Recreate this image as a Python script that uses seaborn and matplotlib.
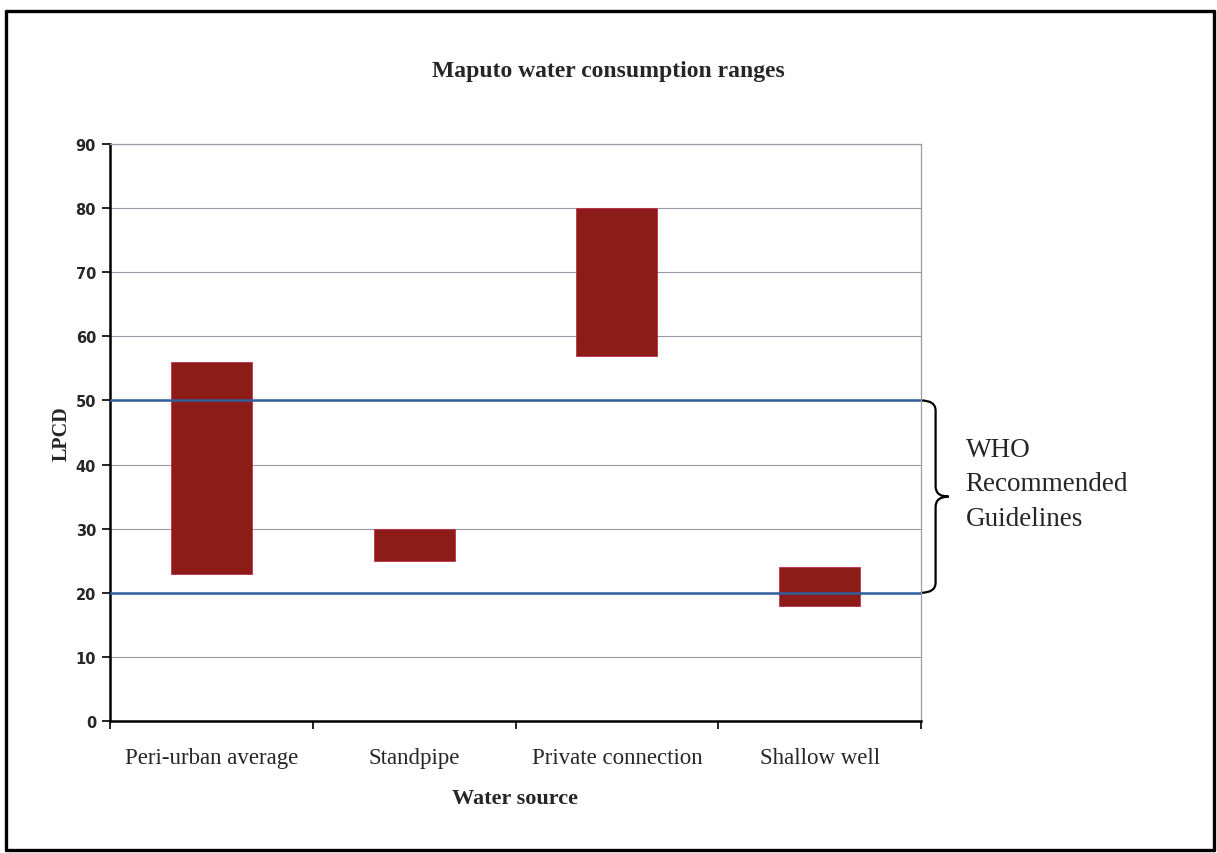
import matplotlib
matplotlib.use("Agg")
import matplotlib.pyplot as plt
from matplotlib.path import Path
from matplotlib.patches import PathPatch
from matplotlib.lines import Line2D
import seaborn as sns
import pandas as pd
import numpy as np

# Consumption ranges per water source (litres per capita per day)
sources = ["Peri-urban average", "Standpipe", "Private connection", "Shallow well"]
range_low = [23, 25, 57, 18]
range_high = [56, 30, 80, 24]

# WHO recommended band
who_low = 20
who_high = 50

y_ticks = [0, 10, 20, 30, 40, 50, 60, 70, 80, 90]

bar_color = "#8B1C18"
who_color = "#2F5E9C"
serif = ["Liberation Serif", "DejaVu Serif"]

sns.set_theme(style="white")
plt.rcParams["font.family"] = ["DejaVu Sans"]

W, H = 1217, 854
fig = plt.figure(figsize=(W / 100, H / 100), dpi=100)
ax = fig.add_axes([110 / W, 1 - 722 / H, (921 - 110) / W, (722 - 145) / H])

df = pd.DataFrame({
    "source": sources,
    "span": np.array(range_high) - np.array(range_low),
})

sns.barplot(data=df, x="source", y="span", order=sources, color=bar_color,
            saturation=1, width=0.4, bottom=range_low, ax=ax,
            edgecolor="#C0304A", linewidth=0.6, zorder=3)

ax.set_ylim(0, 90)
ax.set_xlim(-0.5, len(sources) - 0.5)
ax.set_yticks(y_ticks)
ax.set_yticklabels([str(t) for t in y_ticks], fontsize=10.5, fontweight="bold",
                   family="DejaVu Sans")
ax.yaxis.grid(True, color="#9A9AA8", linewidth=0.8, zorder=0)
ax.set_axisbelow(True)

# Category boundary ticks on the x axis
ax.set_xticks(np.arange(len(sources)))
ax.set_xticklabels(sources, fontsize=16.5, family=serif)
ax.set_xticks(np.arange(-0.5, len(sources)), minor=True)
ax.tick_params(axis="x", which="major", length=0, pad=19)
ax.tick_params(axis="x", which="minor", length=6, width=1.2, color="black",
               direction="out", bottom=True)
ax.tick_params(axis="y", length=6, width=1.2, color="black", direction="out",
               left=True, pad=4)

for side in ["left", "bottom"]:
    ax.spines[side].set_color("black")
    ax.spines[side].set_linewidth(1.8)
for side in ["top", "right"]:
    ax.spines[side].set_color("#9A9AA8")
    ax.spines[side].set_linewidth(0.9)

ax.set_xlabel("Water source", fontsize=16, fontweight="bold", family=serif,
              labelpad=14)
ax.set_ylabel("LPCD", fontsize=14.5, fontweight="bold", family=serif, labelpad=3)

# Chart title, centred on the whole chart
fig.text(0.5, 1 - 72 / H, "Maputo water consumption ranges", ha="center",
         va="center", fontsize=17, fontweight="bold", family=serif)

# WHO guideline lines
for v in (who_low, who_high):
    ax.axhline(v, color=who_color, linewidth=1.8, zorder=4)

# Curly brace spanning the WHO band, outside the plot area
trans = ax.get_yaxis_transform()
x0, xm, xt = 1.0, 1.018, 1.034
mid = (who_low + who_high) / 2
r = 1.6
verts = [
    (x0, who_high), (xm, who_high), (xm, who_high - r),
    (xm, mid + r),
    (xm, mid), (xt, mid),
    (xm, mid), (xm, mid - r),
    (xm, who_low + r),
    (xm, who_low), (x0, who_low),
]
codes = [Path.MOVETO, Path.CURVE3, Path.CURVE3,
         Path.LINETO,
         Path.CURVE3, Path.CURVE3,
         Path.CURVE3, Path.CURVE3,
         Path.LINETO,
         Path.CURVE3, Path.CURVE3]
brace = PathPatch(Path(verts, codes), transform=trans, facecolor="none",
                  edgecolor="black", linewidth=1.6, clip_on=False)
ax.add_patch(brace)

ax.text(1.055, mid + 2.0, "WHO\nRecommended\nGuidelines", transform=trans,
        ha="left", va="center", fontsize=19.5, family=serif, linespacing=1.5,
        clip_on=False)

# Outer chart frame
frame_kw = dict(color="black", linewidth=2.4, transform=fig.transFigure)
x_l, x_r = 6 / W, 1214 / W
y_t, y_b = 1 - 12 / H, 1 - 851 / H
fig.add_artist(Line2D([x_l, x_r], [y_t, y_t], **frame_kw))
fig.add_artist(Line2D([x_l, x_l], [y_t, y_b], **frame_kw))
fig.add_artist(Line2D([x_r, x_r], [y_t, y_b], **frame_kw))
fig.add_artist(Line2D([x_l, x_r], [y_b, y_b], **frame_kw))

fig.savefig("out.png", dpi=100, facecolor="white")
